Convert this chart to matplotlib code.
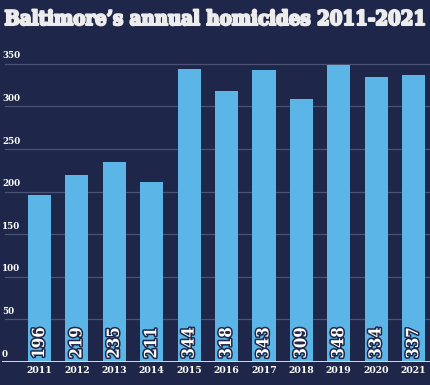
import matplotlib.pyplot as plt
import matplotlib.patheffects as pe

years = ['2011', '2012', '2013', '2014', '2015', '2016', '2017', '2018', '2019', '2020', '2021']
homicides = [196, 219, 235, 211, 344, 318, 343, 309, 348, 334, 337]
yticks = [0, 50, 100, 150, 200, 250, 300, 350]

navy = '#1e2749'
blue = '#5bb5e6'
font = dict(family='DejaVu Serif', fontstretch='condensed', fontweight='bold')

fig = plt.figure(figsize=(4.3, 3.85), dpi=100, facecolor=navy)
ax = fig.add_axes([0, 23 / 385, 1, (362 - 45) / 385])
ax.set_facecolor(navy)

x = list(range(len(years)))
ax.bar(x, homicides, width=0.62, color=blue, zorder=2)

ax.set_xlim(-1.056, 10.44)
ax.set_ylim(0, 372)

# gridlines + y labels sitting above the lines
for t in yticks:
    if t > 0:
        ax.axhline(t, xmin=0.012, color='#4a5373', lw=0.9, zorder=1)
    ax.text(-1.0, t + 4, str(t), color='white', fontsize=7, ha='left', va='bottom', **font)
ax.axhline(0, xmin=0.008, color='#d8dce8', lw=1.4, zorder=3)

# values inside the bars
for i, v in enumerate(homicides):
    ax.text(i, 4, str(v), rotation=90, color='white', fontsize=12, ha='center', va='bottom',
            zorder=4, path_effects=[pe.withStroke(linewidth=2.2, foreground='#1e2749')], **font)

ax.set_xticks(x)
ax.set_xticklabels(years, color='white', fontsize=7.5, **font)
ax.tick_params(axis='x', length=0, pad=3)
ax.set_yticks([])
for s in ax.spines.values():
    s.set_visible(False)

fig.text(0.5, 1 - 19 / 385, 'Baltimore\u2019s annual homicides 2011-2021', color='#ececec',
         fontsize=14.6, ha='center', va='center',
         path_effects=[pe.withStroke(linewidth=1.5, foreground='#ececec')], **font)

fig.savefig('out.png', dpi=100, facecolor=navy)
